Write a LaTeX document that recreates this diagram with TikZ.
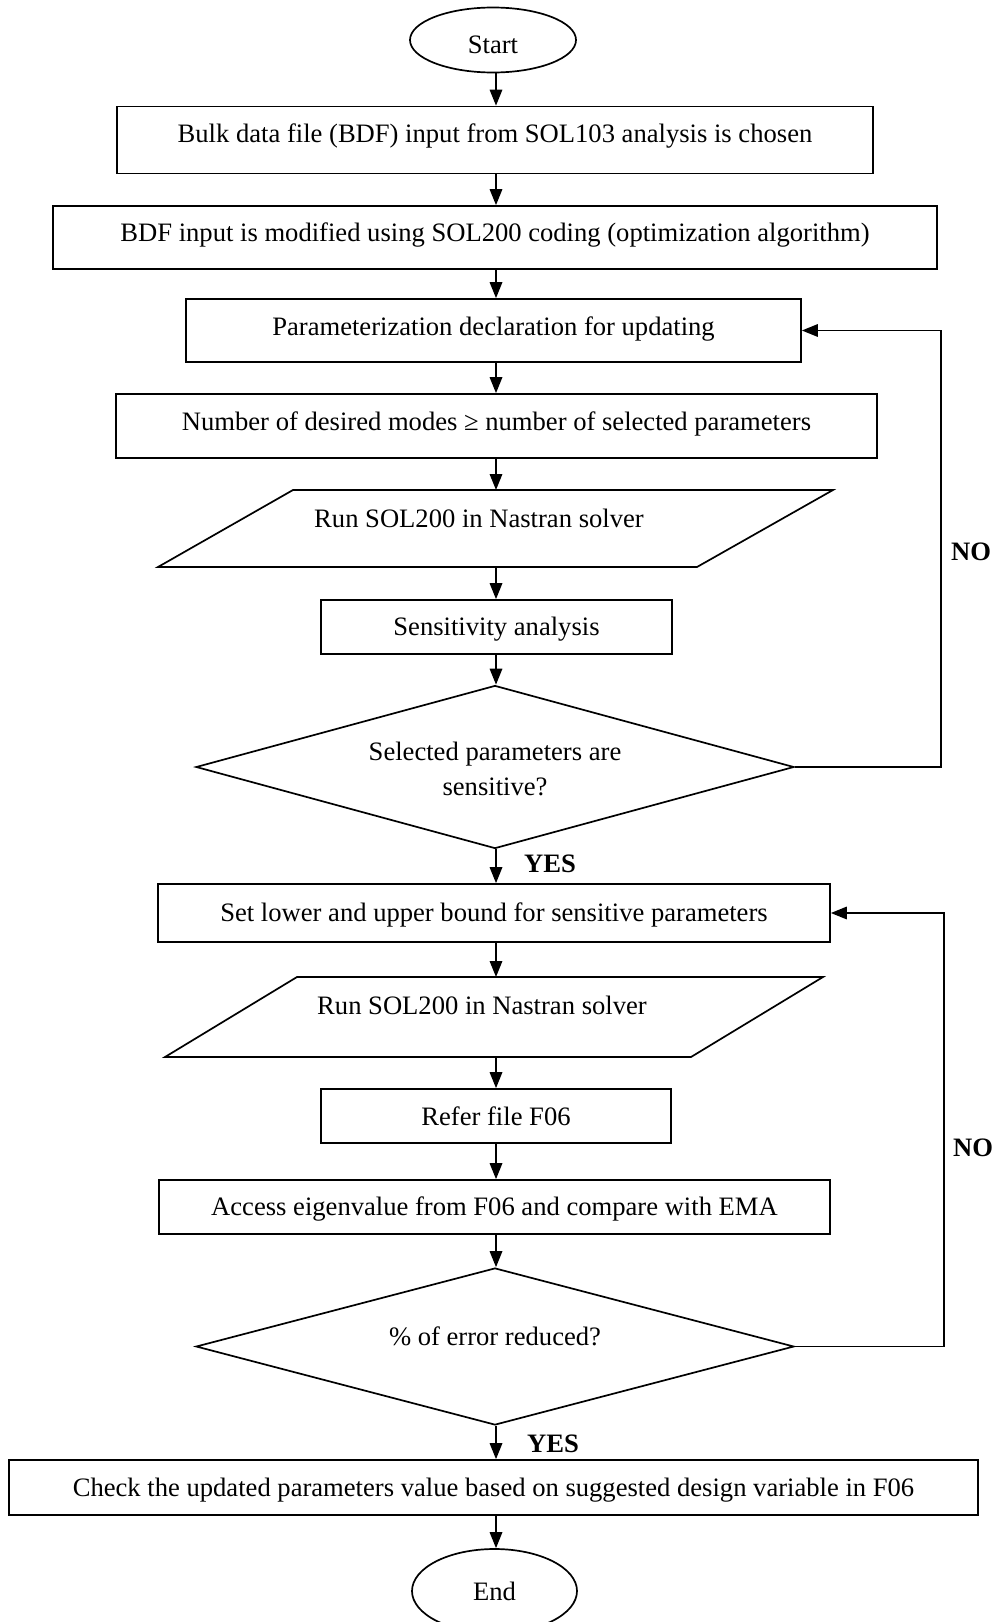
\documentclass[tikz,border=0pt]{standalone}
\usepackage{fontspec}
\setmainfont{Liberation Serif}
\usetikzlibrary{shapes.geometric,arrows.meta}
\newcommand{\mvtxt}[2]{\raisebox{#1}[\height][\depth]{#2}}
\begin{document}
\begin{tikzpicture}[x=1pt,y=-1pt,
  every node/.style={font=\fontsize{26.6}{35}\selectfont},
  ln/.style={line width=1.7pt},
  box/.style={draw,ln,rectangle,inner sep=0pt},
  term/.style={draw,ln,ellipse,inner sep=0pt},
  dec/.style={draw,ln,diamond,inner sep=0pt,aspect=3.6,align=center},
  arr/.style={ln,-{Triangle[length=16pt,width=12.5pt]}},
  lbl/.style={font=\fontsize{26.6}{35}\selectfont\bfseries},
  txt/.style={inner sep=0pt}]
\useasboundingbox (0,0) rectangle (998,1622);
\coordinate (ax) at (496,0);
\coordinate (r1) at (941,0);
\coordinate (r2) at (944,0);

\node[term,minimum width=166pt,minimum height=65pt] (start) at (493,40) {\mvtxt{-5pt}{Start}};
\node[box,minimum width=756pt,minimum height=67pt] (b1) at (495,140) {\mvtxt{4pt}{Bulk data file (BDF) input from SOL103 analysis is chosen}};
\node[box,minimum width=884pt,minimum height=63pt] (b2) at (495,237.5) {\mvtxt{2pt}{BDF input is modified using SOL200 coding (optimization algorithm)}};
\node[box,minimum width=615pt,minimum height=63pt] (b3) at (493.5,330.5) {\mvtxt{1pt}{Parameterization declaration for updating}};
\node[box,minimum width=761pt,minimum height=64pt] (b4) at (496.5,426) {\mvtxt{2pt}{Number of desired modes ≥ number of selected parameters}};

\draw[ln] (158,567) -- (293,490) -- (833,490) -- (697,567) -- cycle;
\coordinate (p1t) at (496,490);
\coordinate (p1b) at (496,567);
\node[txt] (p1) at (479,518) {Run SOL200 in Nastran solver};

\node[box,minimum width=351pt,minimum height=54pt] (b5) at (496.5,627) {\mvtxt{-2pt}{Sensitivity analysis}};
\node[dec,minimum width=598pt,minimum height=163pt] (d1) at (495,767) {\mvtxt{-4pt}{\begin{tabular}{@{}c@{}}Selected parameters are\\sensitive?\end{tabular}}};
\node[box,minimum width=672pt,minimum height=58pt] (b6) at (494,913) {\mvtxt{-2pt}{Set lower and upper bound for sensitive parameters}};

\draw[ln] (165,1057) -- (297,977) -- (823,977) -- (691,1057) -- cycle;
\coordinate (p2t) at (496,977);
\coordinate (p2b) at (496,1057);
\node[txt] (p2) at (482,1005) {Run SOL200 in Nastran solver};

\node[box,minimum width=350pt,minimum height=54pt] (b7) at (496,1116) {Refer file F06};
\node[box,minimum width=671pt,minimum height=54pt] (b8) at (494.5,1207) {\mvtxt{-2pt}{Access eigenvalue from F06 and compare with EMA}};
\node[dec,minimum width=598pt,minimum height=157pt] (d2) at (495,1346.5) {\mvtxt{10pt}{\% of error reduced?}};
\node[box,minimum width=969pt,minimum height=55pt] (b9) at (493.5,1487.5) {\mvtxt{-3pt}{Check the updated parameters value based on suggested design variable in F06}};
\node[term,minimum width=165pt,minimum height=84pt] (end) at (494.5,1591) {End};

% vertical connectors
\draw[arr] (start.south -| ax) -- (b1.north -| ax);
\draw[arr] (b1.south -| ax) -- (b2.north -| ax);
\draw[arr] (b2.south -| ax) -- (b3.north -| ax);
\draw[arr] (b3.south -| ax) -- (b4.north -| ax);
\draw[arr] (b4.south -| ax) -- (p1t);
\draw[arr] (p1b) -- (b5.north -| ax);
\draw[arr] (b5.south -| ax) -- (d1.north -| ax);
\draw[arr] (d1.south -| ax) -- (b6.north -| ax);
\draw[arr] (b6.south -| ax) -- (p2t);
\draw[arr] (p2b) -- (b7.north -| ax);
\draw[arr] (b7.south -| ax) -- (b8.north -| ax);
\draw[arr] (b8.south -| ax) -- (d2.north -| ax);
\draw[arr] (d2.south -| ax) -- (b9.north -| ax);
\draw[arr] (b9.south -| ax) -- (end.north -| ax);

% loops
\draw[arr] (d1.east) -- (d1.east -| r1) -- (b3.east -| r1) -- (b3.east);
\draw[arr] (d2.east) -- (d2.east -| r2) -- (b6.east -| r2) -- (b6.east);

\node[lbl] (yes1) at (550,864) {YES};
\node[lbl] (yes2) at (553,1444) {YES};
\node[lbl] (no1) at (971,552) {NO};
\node[lbl] (no2) at (973,1148) {NO};
\end{tikzpicture}
\end{document}
